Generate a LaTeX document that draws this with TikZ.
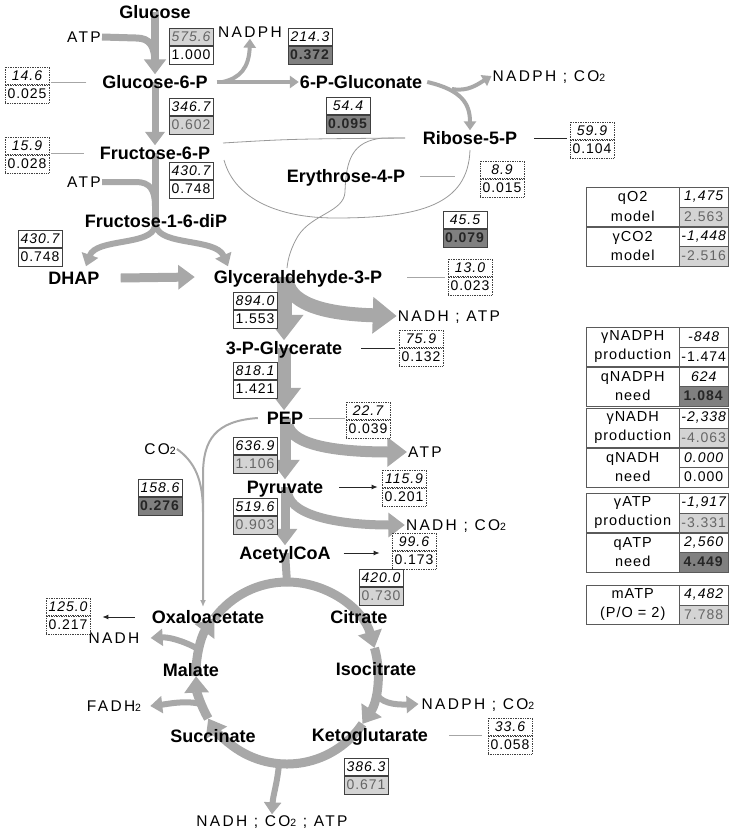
\documentclass[tikz,border=0pt]{standalone}
\usepackage{fontspec}
\setmainfont{Liberation Sans}
\newfontfamily\spaced[LetterSpace=15]{Liberation Sans}
\newfontfamily\digits[LetterSpace=7]{Liberation Sans}
\usetikzlibrary{arrows.meta, backgrounds, calc}
\definecolor{fluxgray}{RGB}{168,168,168}
\definecolor{lightcell}{RGB}{212,212,212}
\definecolor{darkcell}{RGB}{128,128,128}
\definecolor{tabline}{RGB}{90,90,90}
\newcommand{\two}{{\fontsize{10.5}{10.5}\selectfont 2}}
% flux box: name, position of the middle line, frame, top cell, top value, bottom cell, bottom value
\newcommand{\valbox}[7]{%
  \node[cell, #3, #4, anchor=south] (#1t) at (#2) {\itshape #5};
  \node[cell, #3, #6, anchor=north] (#1b) at (#2) {#7};
}
% balance table: name, top, two labels, value, bottom cell, value
\newcommand{\tabgroup}[7]{%
  \node[tabkey] (#1k) at (586,#2) {#3\\#4};
  \node[tabval] (#1v) at (679,#2) {\itshape #5};
  \node[tabval, #6] (#1w) at (679,#2+19.5) {#7};
}

\begin{document}
\begin{tikzpicture}[x=1pt, y=-1pt,
  met/.style={font=\bfseries\fontsize{18}{20}\selectfont, text height=13pt, text depth=0pt, inner sep=1pt},
  cof/.style={font=\spaced\fontsize{15.5}{17}\selectfont, text height=11pt, text depth=0pt, inner sep=1pt},
  flow/.style={draw=fluxgray, line width=#1, -{Triangle[length=3pt 1.5, width=3pt 2.3]}},
  band/.style={draw=fluxgray, line width=#1},
  shunt/.style={draw=black!40, line width=0.8pt},
  feed/.style={draw=fluxgray, line width=2pt},
  cell/.style={minimum width=44pt, minimum height=17.5pt, inner sep=0pt, fill=white, font=\digits\fontsize{14}{15}\selectfont},
  solidbox/.style={draw=black!75, line width=0.7pt},
  dashbox/.style={draw=black!75, line width=0.7pt, densely dotted},
  wcell/.style={fill=white},
  lcell/.style={fill=lightcell, text=black!60},
  dcell/.style={fill=darkcell, text=black!85},
  thinlink/.style={draw=black!35, line width=0.8pt},
  darklink/.style={draw=black!85, line width=1pt},
  darkarrow/.style={darklink, -{Latex[length=6pt,width=5pt]}},
  tabkey/.style={draw=tabline, anchor=north west, minimum width=93pt, minimum height=39pt, inner sep=0pt, align=center, font=\digits\fontsize{14.5}{19.5}\selectfont},
  tabval/.style={draw=tabline, anchor=north west, minimum width=49pt, minimum height=19.5pt, inner sep=0pt, fill=white, font=\digits\fontsize{14}{16}\selectfont}]
\useasboundingbox (0,0) rectangle (734,833);

% metabolites
\node[met] (glc) at (155,12) {Glucose};
\node[met] (g6p) at (155,82) {Glucose-6-P};
\node[met] (f6p) at (155,153) {Fructose-6-P};
\node[met] (fbp) at (156,221) {Fructose-1-6-diP};
\node[met] (dhap) at (74,278) {DHAP};
\node[met] (gap) at (298,277) {Glyceraldehyde-3-P};
\node[met] (pgl) at (361,82) {6-P-Gluconate};
\node[met] (r5p) at (470,138) {Ribose-5-P};
\node[met] (e4p) at (346,176) {Erythrose-4-P};
\node[met] (pga) at (284,348) {3-P-Glycerate};
\node[met] (pep) at (285,418) {PEP};
\node[met] (pyr) at (285,487) {Pyruvate};
\node[met] (accoa) at (285,553) {AcetylCoA};
\node[met] (oaa) at (208,617) {Oxaloacetate};
\node[met] (cit) at (359,617) {Citrate};
\node[met] (mal) at (191,670) {Malate};
\node[met] (icit) at (376,669) {Isocitrate};
\node[met] (suc) at (213,736) {Succinate};
\node[met] (akg) at (370,735) {Ketoglutarate};
\coordinate (tca) at (287,673);

% cofactors
\node[cof] (atpa) at (84,37) {ATP};
\node[cof] (atpb) at (84,182) {ATP};
\node[cof] (nadpha) at (250,32) {NADPH};
\node[cof] (nadphb) at (549,76) {NADPH ; CO\two};
\node[cof] (nadhatp) at (449,316) {NADH ; ATP};
\node[cof] (atpc) at (425,452) {ATP};
\node[cof] (nadhco) at (456,525) {NADH ; CO\two};
\node[cof] (co2) at (160,449) {CO\two};
\node[cof] (nadhb) at (114,638) {NADH};
\node[cof] (fadh) at (114,706) {FADH\two};
\node[cof] (nadphc) at (478,704) {NADPH ; CO\two};
\node[cof] (tcaout) at (272,821) {NADH ; CO\two{} ; ATP};

% fluxes
\valbox{v1}{191,46}{solidbox}{lcell}{575.6}{wcell}{1.000}
\valbox{v2}{310,46}{solidbox}{wcell}{214.3}{dcell}{\textbf{0.372}}
\valbox{v3}{27,85}{dashbox}{wcell}{14.6}{wcell}{0.025}
\valbox{v4}{191,116}{solidbox}{wcell}{346.7}{lcell}{0.602}
\valbox{v5}{348,115}{solidbox}{wcell}{54.4}{dcell}{\textbf{0.095}}
\valbox{v6}{592,140}{dashbox}{wcell}{59.9}{wcell}{0.104}
\valbox{v7}{27,155}{dashbox}{wcell}{15.9}{wcell}{0.028}
\valbox{v8}{502,179}{dashbox}{wcell}{8.9}{wcell}{0.015}
\valbox{v9}{191,180}{solidbox}{wcell}{430.7}{wcell}{0.748}
\valbox{v10}{465,229}{solidbox}{wcell}{45.5}{dcell}{\textbf{0.079}}
\valbox{v11}{40,248}{solidbox}{wcell}{430.7}{wcell}{0.748}
\valbox{v12}{470,277}{dashbox}{wcell}{13.0}{wcell}{0.023}
\valbox{v13}{255,310}{solidbox}{wcell}{894.0}{wcell}{1.553}
\valbox{v14}{421,348}{dashbox}{wcell}{75.9}{wcell}{0.132}
\valbox{v15}{255,380}{solidbox}{wcell}{818.1}{wcell}{1.421}
\valbox{v16}{368,420}{dashbox}{wcell}{22.7}{wcell}{0.039}
\valbox{v17}{255,455}{solidbox}{wcell}{636.9}{lcell}{1.106}
\valbox{v18}{160,497}{solidbox}{wcell}{158.6}{dcell}{\textbf{0.276}}
\valbox{v19}{404,488}{dashbox}{wcell}{115.9}{wcell}{0.201}
\valbox{v20}{255,516}{solidbox}{wcell}{519.6}{lcell}{0.903}
\valbox{v21}{414,551}{dashbox}{wcell}{99.6}{wcell}{0.173}
\valbox{v22}{381,587}{solidbox}{wcell}{420.0}{lcell}{0.730}
\valbox{v23}{68,616}{dashbox}{wcell}{125.0}{wcell}{0.217}
\valbox{v24}{510,736}{dashbox}{wcell}{33.6}{wcell}{0.058}
\valbox{v25}{366,776}{solidbox}{wcell}{386.3}{lcell}{0.671}

% links to the dashed boxes
\draw[thinlink] ([xshift=-15pt]g6p.west) -- ($(g6p.west -| v3t.east)+(2,0)$);
\draw[thinlink] ([xshift=-15pt]f6p.west) -- ($(f6p.west -| v7t.east)+(2,0)$);
\draw[darklink] ([xshift=16pt]r5p.east) -- ($(r5p.east -| v6t.west)+(-3,0)$);
\draw[thinlink] ([xshift=14pt]e4p.east) -- ($(e4p.east -| v8t.west)+(-25,0)$);
\draw[thinlink] ([xshift=24pt]gap.east) -- ($(gap.east -| v12t.west)+(-3,0)$);
\draw[darklink] ([xshift=18pt]pga.east) -- ($(pga.east -| v14t.west)+(-4,0)$);
\draw[thinlink] ([xshift=5pt]pep.east) -- ($(pep.east -| v16t.west)+(-1,0)$);
\draw[darkarrow] ([xshift=15pt]pyr.east) -- ($(pyr.east -| v19t.west)+(-4,0)$);
\draw[darkarrow] ([xshift=12pt]accoa.east) -- ($(accoa.east -| v21t.west)+(-12,0)$);
\draw[darkarrow] ([xshift=-16pt]oaa.west) -- ($(oaa.west -| v23t.east)+(12,0)$);
\draw[thinlink] ([xshift=20pt]akg.east) -- ($(akg.east -| v24t.west)+(-6,0)$);

% balances
\tabgroup{otwo}{187}{qO2}{model}{1,475}{lcell}{2.563}
\tabgroup{ctwo}{226.5}{γCO2}{model}{-1,448}{lcell}{-2.516}
\tabgroup{nadphp}{327}{γNADPH}{production}{-848}{wcell}{-1.474}
\tabgroup{nadphn}{366.5}{qNADPH}{need}{624}{dcell}{\textbf{1.084}}
\tabgroup{nadhp}{408}{γNADH}{production}{-2,338}{lcell}{-4.063}
\tabgroup{nadhn}{447.5}{qNADH}{need}{0.000}{wcell}{0.000}
\tabgroup{atpp}{493}{γATP}{production}{-1,917}{lcell}{-3.331}
\tabgroup{atpn}{532.5}{qATP}{need}{2,560}{dcell}{\textbf{4.449}}
\tabgroup{matp}{585}{mATP}{(P/O = 2)}{4,482}{lcell}{7.788}

\begin{pgfonlayer}{background}
% pentose shunt
\draw[shunt] (223,143) .. controls (290,139) .. (405,138);
\draw[shunt] (224,160) .. controls (235,200) and (280,218) .. (335,218) .. controls (420,218) and (468,205) .. (470,150);
\draw[shunt] (405,138) -- (383,138) .. controls (352,141) and (346,160) .. (345,192) .. controls (344,212) and (312,214) .. (298,236) .. controls (291,248) and (288,258) .. (287,268);
% anaplerosis
\draw[feed, -{Latex[length=7pt,width=6pt]}] ([xshift=-8pt]pep.west) .. controls (215,421) and (203,440) .. (203,475) -- (203,607);
\draw[feed] (co2.east) .. controls (195,462) and (203,480) .. (203,512);
% glycolysis
\draw[flow=8pt] (glc.center) -- (g6p.north);
\draw[band=7pt] (atpa.east) -- (136,38) .. controls (150,38) and (155,46) .. (155,64);
\draw[flow=7pt] (g6p.center) -- (f6p.north);
\draw[band=7pt] (f6p.center) -- (155,230);
\draw[band=6pt] (atpb.east) -- (136,182) .. controls (150,182) and (155,190) .. (155,206);
\draw[flow=6pt] (155,226) .. controls (152,246) and (96,238) .. ([xshift=12pt,yshift=4pt]dhap.north);
\draw[flow=6pt] (156,226) .. controls (160,246) and (216,238) .. ([xshift=-70pt,yshift=3pt]gap.north);
\draw[flow=9pt] ([xshift=20pt]dhap.east) -- ([xshift=-18pt]gap.west);
\draw[flow=15pt] (gap.center -| pga.center) -- (pga.north);
\draw[flow=14pt] (287,282) .. controls (292,306) and (330,314) .. (nadhatp.west);
\draw[flow=13pt] (pga.center) -- (pga.center |- pep.north);
\draw[flow=11pt] (pep.center) -- (pyr.north);
\draw[flow=11pt] (288,425) .. controls (292,446) and (340,452) .. (atpc.west);
\draw[flow=9pt] (pyr.center) -- (accoa.north);
\draw[flow=9pt] (288,494) .. controls (292,516) and (340,525) .. (nadhco.west);
\draw[band=8pt] (accoa.center) -- ($(tca)+(90:91pt)$);
% oxidative pentose phosphate
\draw[flow=4pt] ([xshift=8pt]g6p.east) -- (pgl.west);
\draw[flow=4pt] ([xshift=14pt]g6p.east) .. controls (240,78) and (249,68) .. (nadpha.south);
\draw[flow=4pt] ([xshift=4pt]pgl.east) .. controls (462,90) and (470,104) .. (r5p.north);
\draw[flow=4pt] (452,89) .. controls (468,92) and (478,84) .. (nadphb.west);
% TCA cycle
\draw[flow=9pt] ($(tca)+(90:91pt)$) arc[start angle=90, end angle=16, radius=91pt];
\draw[flow=9pt] ($(tca)+(16:91pt)$) arc[start angle=16, end angle=-34, radius=91pt];
\draw[flow=9pt] ($(tca)+(-34:91pt)$) arc[start angle=-34, end angle=-150, radius=91pt];
\draw[flow=9pt] ($(tca)+(-150:91pt)$) arc[start angle=-150, end angle=-178, radius=91pt];
\draw[flow=9pt] ($(tca)+(-178:91pt)$) arc[start angle=-178, end angle=-217, radius=91pt];
\draw[band=9pt] ($(tca)+(-217:91pt)$) arc[start angle=-217, end angle=-270, radius=91pt];
\draw[flow=6pt] ($(tca)+(165:91pt)$) .. controls (182,640) and (168,637) .. ([xshift=10pt]nadhb.east);
\draw[flow=6pt] ($(tca)+(200:91pt)$) .. controls (185,700) and (168,704) .. ([xshift=8pt]fadh.east);
\draw[flow=6pt] ($(tca)+(-12:91pt)$) .. controls (379,703) and (395,705) .. ([xshift=-2pt]nadphc.west);
\draw[flow=6pt] ($(tca)+(-95:91pt)$) .. controls (277,785) and (273,795) .. (tcaout.north);
\end{pgfonlayer}
\end{tikzpicture}
\end{document}
